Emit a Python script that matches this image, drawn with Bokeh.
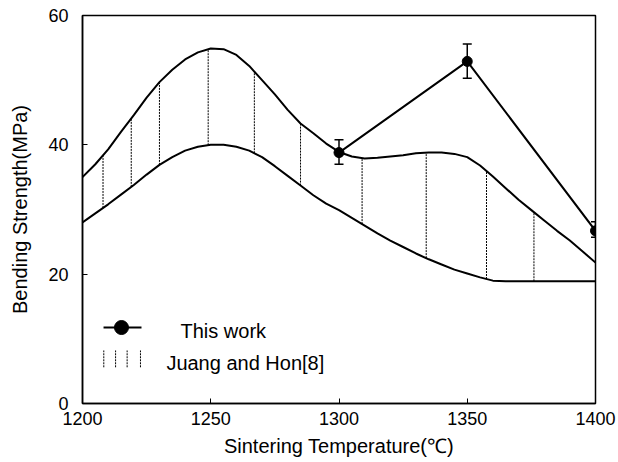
import numpy as np
from bokeh.plotting import figure
from bokeh.models import ColumnDataSource, Whisker, TeeHead, Range1d, FixedTicker
from bokeh.core.properties import value
from bokeh.embed import file_html
from bokeh.resources import INLINE

# ---- data ----
temp = [1200, 1205, 1210, 1215, 1220, 1225, 1230, 1235, 1240, 1245, 1250,
        1255, 1260, 1265, 1270, 1275, 1280, 1285, 1290, 1295, 1300,
        1305, 1310, 1315, 1320, 1325, 1330, 1335, 1340, 1345, 1350,
        1355, 1360, 1365, 1370, 1375, 1380, 1385, 1390, 1395, 1400]
juang_upper = [35, 37, 39.3, 42, 44.6, 47.3, 49.7, 51.6, 53.2, 54.3, 54.9,
               54.8, 53.9, 52.2, 50, 47.8, 45.4, 43.3, 41.8, 40.2, 38.9,
               38.2, 37.9, 38, 38.2, 38.4, 38.7, 38.8, 38.8, 38.6, 38.1,
               36.8, 35.1, 33.3, 31.5, 29.9, 28.3, 26.7, 25.2, 23.5, 21.8]
juang_lower = [28, 29.4, 30.8, 32.3, 33.8, 35.4, 36.9, 38.1, 39.1, 39.7, 40,
               40.0, 39.7, 39.1, 38.1, 36.7, 35.2, 33.7, 32.2, 30.9, 29.9,
               28.7, 27.5, 26.3, 25.2, 24.2, 23.2, 22.3, 21.5, 20.7, 20.1,
               19.5, 19.0, 18.9, 18.9, 18.9, 18.9, 18.9, 18.9, 18.9, 18.9]
hatch_x = [1208, 1219, 1230, 1249, 1267, 1285, 1309, 1334, 1357.5, 1376]

work_temp = [1300, 1350, 1400]
work_strength = [38.8, 52.9, 26.7]
work_err_hi = [40.8, 55.6, 28.1]
work_err_lo = [37.0, 50.3, 25.7]

x_ticks = [1200, 1250, 1300, 1350, 1400]
y_ticks = [0, 20, 40, 60]

FONT = "Liberation Sans"

p = figure(width=616, height=462, output_backend="svg", toolbar_location=None,
           x_range=Range1d(1200, 1400), y_range=Range1d(0, 60),
           min_border_left=82, min_border_right=21, min_border_top=15, min_border_bottom=59)
p.grid.visible = False
p.outline_line_color = "black"
p.outline_line_width = 1.5
p.background_fill_color = "white"
p.border_fill_color = "white"

for ax in (p.xaxis[0], p.yaxis[0]):
    ax.axis_line_width = 1.5
    ax.major_tick_in = 5
    ax.major_tick_out = 0
    ax.minor_tick_line_color = None
    ax.major_tick_line_width = 1
    ax.major_label_text_font = FONT
    ax.major_label_text_font_size = "18px"
    ax.major_label_text_color = "black"
    ax.axis_label_text_font = FONT
    ax.axis_label_text_font_size = "20px"
    ax.axis_label_text_font_style = "normal"
    ax.axis_label_text_color = "black"
p.xaxis.ticker = FixedTicker(ticks=x_ticks)
p.yaxis.ticker = FixedTicker(ticks=y_ticks)
p.xaxis.axis_label = "Sintering Temperature(℃)"
p.yaxis.axis_label = "Bending Strength(MPa)"
p.xaxis.major_label_standoff = 8
p.xaxis.axis_label_standoff = 7
p.yaxis.major_label_standoff = 14
p.yaxis.axis_label_standoff = 14

# Juang and Hon curves
p.line(temp, juang_upper, line_color="black", line_width=2)
p.line(temp, juang_lower, line_color="black", line_width=2)
hx = np.array(hatch_x)
p.segment(x0=hx, y0=np.interp(hx, temp, juang_lower), x1=hx, y1=np.interp(hx, temp, juang_upper),
          line_color="black", line_width=1, line_dash="2 1")

# This work
src = ColumnDataSource(dict(x=work_temp, y=work_strength, hi=work_err_hi, lo=work_err_lo))
p.line("x", "y", source=src, line_color="black", line_width=2)
p.scatter("x", "y", source=src, size=10, color="black")
w = Whisker(source=src, base="x", upper="hi", lower="lo", line_width=1.5, line_color="black",
            upper_head=TeeHead(size=9, line_width=1.5, line_color="black"),
            lower_head=TeeHead(size=9, line_width=1.5, line_color="black"))
p.add_layout(w)

# legend (layout constants)
LEG_X0, LEG_X1, LEG_XM = 1208.2, 1223.0, 1215.2
LEG_Y1, LEG_Y2 = 11.75, 6.2
p.line([LEG_X0, LEG_X1], [LEG_Y1, LEG_Y1], line_color="black", line_width=2)
p.scatter([LEG_XM], [LEG_Y1], size=14, color="black")
p.text([1238.2], [11.2], text=["This work"], text_font=value(FONT), text_font_size="20px",
       text_baseline="middle", text_color="black")
lx = np.array([1208.3, 1212.9, 1217.4, 1222.6])
p.segment(x0=lx, y0=[5.6] * 4, x1=lx, y1=[8.2] * 4, line_color="black", line_width=1, line_dash="2 1")
p.text([1232.7], [LEG_Y2], text=["Juang and Hon[8]"], text_font=value(FONT), text_font_size="20px",
       text_baseline="middle", text_color="black")

open("out.html", "w").write(file_html(p, INLINE))
